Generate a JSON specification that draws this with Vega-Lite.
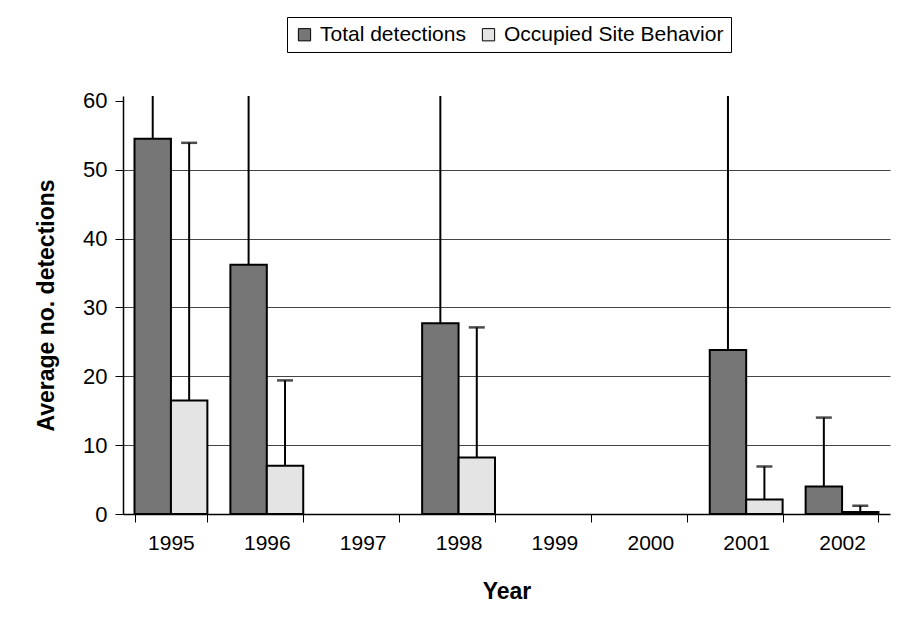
{
  "$schema": "https://vega.github.io/schema/vega-lite/v6.json",
  "width": 767,
  "height": 418,
  "autosize": {"type": "none"},
  "padding": {"left": 123, "top": 96, "right": 8, "bottom": 127},
  "background": "white",
  "config": {
    "view": {"stroke": null},
    "font": "Liberation Sans"
  },
  "data": {
    "values": [
      {"year": "1995", "series": "Total detections", "value": 54.5, "hi": 70},
      {"year": "1995", "series": "Occupied Site Behavior", "value": 16.5, "hi": 53.9},
      {"year": "1996", "series": "Total detections", "value": 36.2, "hi": 70},
      {"year": "1996", "series": "Occupied Site Behavior", "value": 7.0, "hi": 19.4},
      {"year": "1998", "series": "Total detections", "value": 27.7, "hi": 70},
      {"year": "1998", "series": "Occupied Site Behavior", "value": 8.2, "hi": 27.1},
      {"year": "2001", "series": "Total detections", "value": 23.8, "hi": 70},
      {"year": "2001", "series": "Occupied Site Behavior", "value": 2.1, "hi": 6.9},
      {"year": "2002", "series": "Total detections", "value": 4.0, "hi": 14.0},
      {"year": "2002", "series": "Occupied Site Behavior", "value": 0.3, "hi": 1.2}
    ]
  },
  "encoding": {
    "x": {
      "field": "year",
      "type": "nominal",
      "scale": {
        "domain": ["1995", "1996", "1997", "1998", "1999", "2000", "2001", "2002"],
        "paddingInner": 0.24,
        "paddingOuter": 0.12
      },
      "axis": {
        "title": "Year",
        "labelAngle": 0,
        "labelFontSize": 21,
        "labelColor": "black",
        "labelPadding": 10,
        "tickBand": "extent",
        "tickSize": 8,
        "tickColor": "black",
        "domainColor": "black",
        "domainWidth": 1.5,
        "titleFontSize": 23,
        "titleFontWeight": "bold",
        "titleColor": "black",
        "titlePadding": 27
      }
    },
    "xOffset": {
      "field": "series",
      "type": "nominal",
      "scale": {"domain": ["Total detections", "Occupied Site Behavior"], "paddingInner": 0, "paddingOuter": 0}
    }
  },
  "layer": [
    {
      "mark": {"type": "bar", "stroke": "black", "strokeWidth": 2},
      "encoding": {
        "y": {
          "field": "value",
          "type": "quantitative",
          "scale": {"domain": [0, 60.7], "nice": false, "zero": true},
          "axis": {
            "title": "Average no. detections",
            "values": [0, 10, 20, 30, 40, 50, 60],
            "labelFontSize": 22,
            "labelColor": "black",
            "labelPadding": 8,
            "tickSize": 8,
            "tickColor": "black",
            "domainColor": "black",
            "domainWidth": 1.5,
            "grid": true,
            "gridColor": {"condition": {"test": "datum.value == 0 || datum.value == 60", "value": "transparent"}, "value": "#444"},
            "gridWidth": 1.2,
            "titleFontSize": 23,
            "titleFontWeight": "bold",
            "titleColor": "black",
            "titlePadding": 24
          }
        },
        "color": {
          "field": "series",
          "type": "nominal",
          "scale": {"domain": ["Total detections", "Occupied Site Behavior"], "range": ["#767676", "#e4e4e4"]},
          "legend": {
            "title": null,
            "orient": "none",
            "direction": "horizontal",
            "legendX": 164,
            "legendY": -79,
            "symbolType": "square",
            "symbolSize": 150,
            "symbolStrokeColor": "black",
            "symbolStrokeWidth": 1,
            "symbolOpacity": 1,
            "labelFontSize": 21,
            "labelColor": "black",
            "labelLimit": 300,
            "labelOffset": 5,
            "columnPadding": 12,
            "padding": 7,
            "strokeColor": "black",
            "fillColor": "white"
          }
        }
      }
    },
    {
      "mark": {"type": "rule", "color": "black", "strokeWidth": 2, "clip": true},
      "encoding": {
        "y": {"field": "value", "type": "quantitative"},
        "y2": {"field": "hi"}
      }
    },
    {
      "mark": {"type": "tick", "color": "black", "thickness": 2.5, "size": 16, "clip": true},
      "encoding": {
        "y": {"field": "hi", "type": "quantitative"}
      }
    }
  ]
}
